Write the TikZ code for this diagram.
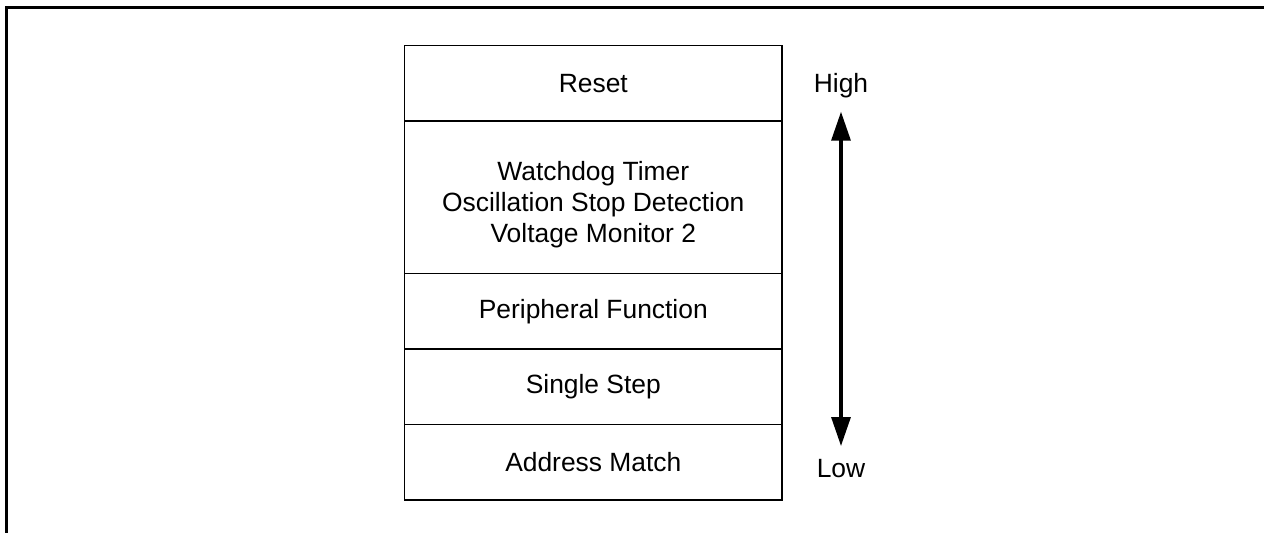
\documentclass[tikz,border=0pt]{standalone}
\usepackage{fontspec}
\setmainfont{Liberation Sans}
\usepackage{tikz}
\usetikzlibrary{positioning,arrows.meta}

\begin{document}
\begin{tikzpicture}[x=0.5pt,y=-0.5pt,node distance=0pt,
  row/.style={draw,line width=0.65pt,outer sep=0pt,inner sep=0pt,align=center,
    font=\fontsize{13.2}{15.5}\selectfont,minimum width=188.7pt,minimum height=37.75pt},
  lbl/.style={font=\fontsize{13.2}{15.5}\selectfont,inner sep=0pt},
  a/.style={{Triangle[length=14.5pt,width=9.5pt]}-{Triangle[length=14.5pt,width=9.5pt]},line width=1.6pt}]
  \useasboundingbox (0,0) rectangle (1264,532);
  % frame, only its top and left edges fall inside the page
  \draw[line width=1.5pt] (6.5,540) -- (6.5,7.5) -- (1270,7.5);
  % priority table
  \node[row,anchor=north] (reset) at (593.3,45.5) {Reset};
  \node[row,below=of reset,minimum height=76.25pt] (wdt)
    {\mbox{}\\[1pt]Watchdog Timer\\Oscillation Stop Detection\\Voltage Monitor 2};
  \node[row,below=of wdt] (periph) {Peripheral Function};
  \node[row,below=of periph] (sstep) {Single Step};
  \node[row,below=of sstep] (amatch) {Address Match};
  % high / low
  \node[lbl] (hi) at (841,86) {High};
  \node[lbl] (lo) at (841,469) {Low};
  \coordinate (up) at (841,111.7);
  \coordinate (down) at (841,446);
  \draw[a] (up) -- (down);
\end{tikzpicture}
\end{document}
